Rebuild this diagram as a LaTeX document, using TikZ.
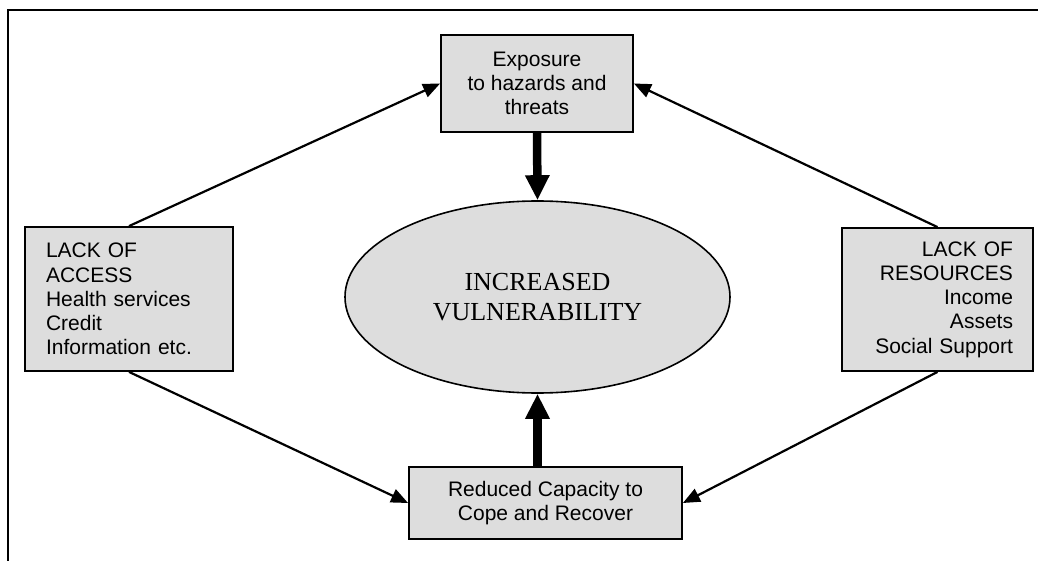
\documentclass[tikz,border=0pt]{standalone}
\usepackage{fontspec}
\setmainfont{Liberation Sans}
\newfontfamily\timesfont{Liberation Serif}
\usetikzlibrary{arrows.meta,shapes.geometric}
\definecolor{boxgray}{RGB}{221,221,221}
\begin{document}
\begin{tikzpicture}[x=1pt,y=-1pt,
  box/.style={draw=black, line width=1.8pt, fill=boxgray, inner sep=0pt,
    font=\fontsize{21}{24.2}\selectfont},
  conn/.style={line width=2.2pt, -{Triangle[length=17pt,width=14pt]}},
  bigarrow/.style={line width=8.5pt, -{Triangle[length=25pt,width=23pt]}},
  frame/.style={line width=2pt}]
\useasboundingbox (0,0) rectangle (1038,561);
\draw[frame] (8,561) -- (8,10.5) -- (1038,10.5);
\node[box, minimum width=192pt, minimum height=97pt, align=center] (top) at (537,83.5)
  {Exposure\\to hazards and\\threats};
\node[ellipse, draw=black, line width=1.6pt, fill=boxgray, minimum width=385pt,
  minimum height=192pt, inner sep=0pt, align=center,
  font=\timesfont\fontsize{26}{30}\selectfont] (ell) at (537.5,297)
  {INCREASED\\VULNERABILITY};
\node[box, text width=166pt, inner xsep=21pt, minimum height=144pt, align=left] (left) at (129,299)
  {LACK OF\\ACCESS\\Health services\\Credit\\Information etc.};
\node[box, text width=151pt, inner xsep=20pt, minimum height=143pt, align=right] (right) at (937.5,299.5)
  {LACK OF\\RESOURCES\\Income\\Assets\\Social Support};
\node[box, minimum width=273pt, minimum height=72pt, align=center] (bot) at (545.5,503)
  {Reduced Capacity to\\Cope and Recover};
\draw[conn] (left.north) -- (top.west);
\draw[conn] (right.north) -- (top.east);
\draw[conn] (left.south) -- (bot.west);
\draw[conn] (right.south) -- (bot.east);
\draw[bigarrow] (top.south) -- (ell.north);
\draw[bigarrow] (bot.north -| ell.south) -- (ell.south);
\end{tikzpicture}
\end{document}
